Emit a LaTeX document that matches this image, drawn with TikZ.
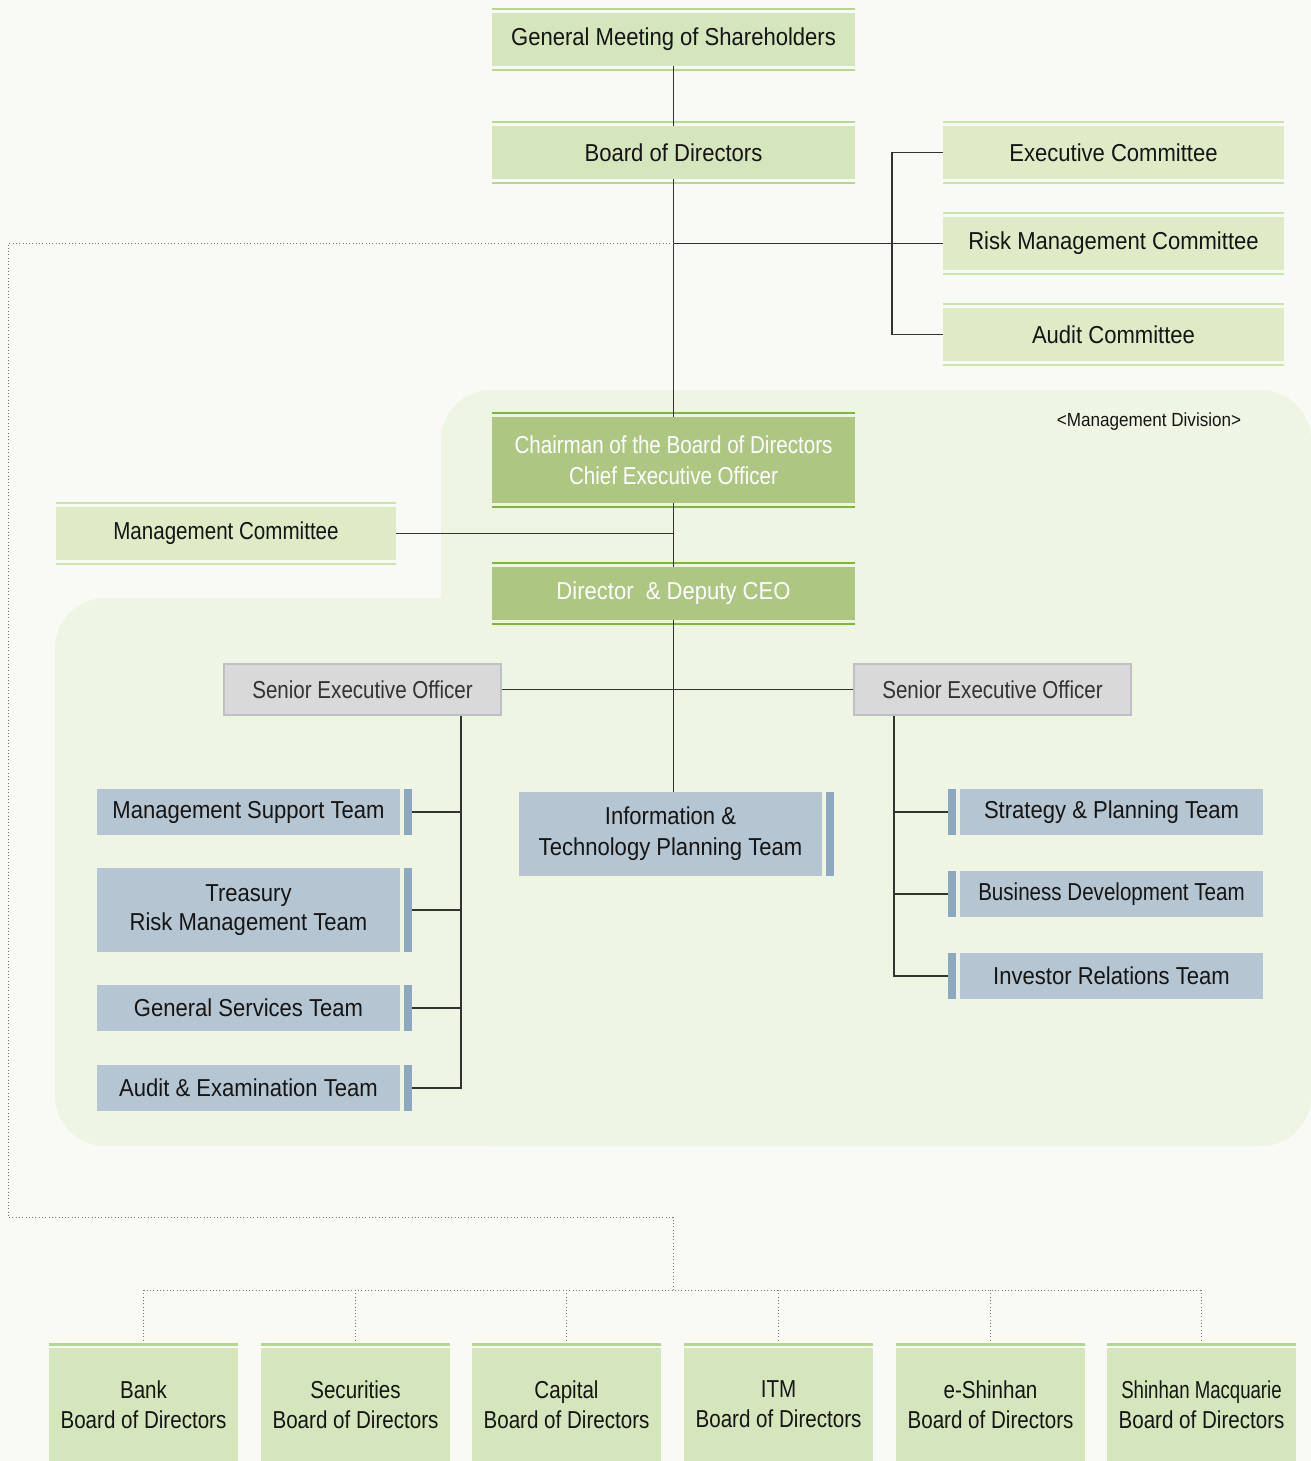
\documentclass[tikz,border=0pt]{standalone}
\usepackage{fontspec}
\setmainfont{Liberation Sans}
\newfontfamily\fnorm{Liberation Sans}[FakeStretch=0.9]
\newfontfamily\fnar{Liberation Sans}[FakeStretch=0.84]
\newfontfamily\fnarr{Liberation Sans}[FakeStretch=0.76]
\definecolor{bgc}{HTML}{F9FAF5}
\definecolor{regc}{HTML}{EFF5E3}
\definecolor{gfill}{HTML}{D6E6BC}
\definecolor{gline}{HTML}{B5D98C}
\definecolor{cfill}{HTML}{DFEBC7}
\definecolor{cline}{HTML}{CBE4A8}
\definecolor{dfill}{HTML}{ADC783}
\definecolor{dline}{HTML}{7DB73A}
\definecolor{sfill}{HTML}{D9D9D9}
\definecolor{sline}{HTML}{BFBFC6}
\definecolor{tfill}{HTML}{B6C5D2}
\definecolor{tbar}{HTML}{8EA8C0}
\definecolor{txt}{HTML}{151515}
\definecolor{conn}{HTML}{333333}
\definecolor{dotc}{HTML}{777777}
\tikzset{
  base/.style={inner sep=0pt, align=center, text=txt, font=\fnorm\fontsize{24.5}{30}\selectfont},
  gbox/.style={base, fill=gfill, minimum width=363pt, minimum height=53pt},
  combox/.style={base, fill=cfill, minimum width=341pt, minimum height=53pt},
  dbox/.style={base, fill=dfill, minimum width=363pt, text=white},
  seobox/.style={base, fill=sfill, draw=sline, line width=2pt, minimum width=277pt, minimum height=51pt, text=black!80, font=\fnar\fontsize{24.5}{30}\selectfont},
  team/.style={base, fill=tfill, minimum width=303pt},
  subbox/.style={base, fill=gfill, minimum width=189pt, minimum height=113pt, font=\fnar\fontsize{24.5}{30}\selectfont},
  conline/.style={draw=conn, line width=1.3pt},
  dotline/.style={draw=dotc, line width=0.9pt, dash pattern=on 0.9pt off 2.4pt},
  barline/.style={line width=2.5pt}
}
\begin{document}
\begin{tikzpicture}[x=1pt,y=-1pt]
\useasboundingbox (0,0) rectangle (1311,1461);
\fill[bgc] (0,0) rectangle (1311,1461);
% management division region
\fill[regc, rounded corners=50pt] (441,390) rectangle (1311,1146);
\fill[regc, rounded corners=50pt] (55,598) rectangle (1311,1146);
\node[base, font=\fnorm\fontsize{19}{23}\selectfont] (mdiv) at (1149,422) {<Management Division>};

% top nodes
\node[gbox] (gm) at (673.5,39.5) {General Meeting of Shareholders};
\node[gbox] (bod) at (673.5,152.5) {Board of Directors};
\node[combox] (exec) at (1113.5,152.5) {Executive Committee};
\node[combox] (risk) at (1113.5,243.5) {Risk Management Committee};
\node[combox] (audit) at (1113.5,334.5) {Audit Committee};
\node[dbox, minimum height=86pt, font=\fnar\fontsize{24.5}{31}\selectfont] (ceo) at (673.5,460) {Chairman of the Board of Directors\\Chief Executive Officer};
\node[combox, minimum width=340pt] (mgmt) at (226,533.5) {\fnar Management Committee};
\node[dbox, minimum height=53pt] (dir) at (673.5,593.5) {Director\ \ \& Deputy CEO};

% decorative double lines
\foreach \n/\c in {gm/gline, bod/gline, exec/cline, risk/cline, audit/cline, mgmt/cline, ceo/dline, dir/dline}{
  \draw[\c, barline] ([yshift=3.6pt]\n.north west) -- ([yshift=3.6pt]\n.north east);
  \draw[\c, barline] ([yshift=-3.6pt]\n.south west) -- ([yshift=-3.6pt]\n.south east);
}

% senior executive officers
\node[seobox] (seol) at (362.5,689.5) {Senior Executive Officer};
\node[seobox] (seor) at (992.5,689.5) {Senior Executive Officer};

% left teams
\node[team, minimum height=46pt] (ms) at (248.5,812) {Management Support Team};
\node[team, minimum height=84pt, font=\fnorm\fontsize{24.5}{29}\selectfont] (tr) at (248.5,910) {Treasury\\Risk Management Team};
\node[team, minimum height=46pt] (gs) at (248.5,1008) {General Services Team};
\node[team, minimum height=46pt] (ae) at (248.5,1088) {Audit \& Examination Team};
% center team
\node[team, minimum height=84pt, font=\fnorm\fontsize{24.5}{31}\selectfont] (it) at (670.5,834) {Information \&\\Technology Planning Team};
% right teams
\node[team, minimum height=46pt] (sp) at (1111.5,812) {Strategy \& Planning Team};
\node[team, minimum height=46pt, font=\fnar\fontsize{24.5}{30}\selectfont] (bd) at (1111.5,894) {Business Development Team};
\node[team, minimum height=46pt] (ir) at (1111.5,976) {Investor Relations Team};

% accent bars
\foreach \n in {ms,tr,gs,ae,it}{
  \fill[tbar] ([xshift=4pt]\n.north east) rectangle ([xshift=12pt]\n.south east);
}
\foreach \n in {sp,bd,ir}{
  \fill[tbar] ([xshift=-12pt]\n.north west) rectangle ([xshift=-4pt]\n.south west);
}

% subsidiaries
\node[subbox] (b1) at (143.5,1404.5) {Bank\\Board of Directors};
\node[subbox] (b2) at (355.5,1404.5) {Securities\\Board of Directors};
\node[subbox] (b3) at (566.5,1404.5) {Capital\\Board of Directors};
\node[subbox] (b4) at (778.5,1404.5) {ITM\\Board of Directors};
\node[subbox] (b5) at (990.5,1404.5) {e-Shinhan\\Board of Directors};
\node[subbox, font=\fnarr\fontsize{24.5}{30}\selectfont] (b6) at (1201.5,1404.5) {Shinhan Macquarie\\{\fnar Board of Directors}};
\foreach \n in {b1,b2,b3,b4,b5,b6}{
  \draw[gline, barline] ([yshift=3.5pt]\n.north west) -- ([yshift=3.5pt]\n.north east);
}

% solid connectors
\coordinate (hub) at (bod.south |- risk.west);
\coordinate (brk) at (892,152.5);
\draw[conline] (gm.south) -- (bod.north);
\draw[conline] (bod.south) -- (ceo.north);
\draw[conline] (hub) -- (risk.west);
\draw[conline] (exec.west) -- (brk) |- (audit.west);
\draw[conline] (ceo.south) -- (dir.north);
\draw[conline] (mgmt.east) -- (mgmt.east -| ceo.south);
\draw[conline] (dir.south) -- (dir.south |- it.north);
\draw[conline] (seol.east) -- (seor.west);

\coordinate (lsp) at (461,716);
\draw[conline] (lsp) |- ([xshift=12pt]ae.east);
\foreach \n in {ms,tr,gs}{
  \draw[conline] ([xshift=12pt]\n.east) -- (\n.east -| lsp);
}
\coordinate (rsp) at (894,716);
\draw[conline] (rsp) |- ([xshift=-12pt]ir.west);
\foreach \n in {sp,bd}{
  \draw[conline] ([xshift=-12pt]\n.west) -- (\n.west -| rsp);
}

% dotted connectors to subsidiaries
\coordinate (d1) at (8,243.5);
\coordinate (d2) at (8,1217);
\coordinate (d3) at (673,1217);
\coordinate (d4) at (673,1290);
\draw[dotline] (hub) -- (d1) -- (d2) -- (d3) -- (d4);
\draw[dotline] (b1.north |- d4) -- (b6.north |- d4);
\foreach \n in {b1,b2,b3,b4,b5,b6}{
  \draw[dotline] (\n.north |- d4) -- ([yshift=8pt]\n.north);
}
\end{tikzpicture}
\end{document}
